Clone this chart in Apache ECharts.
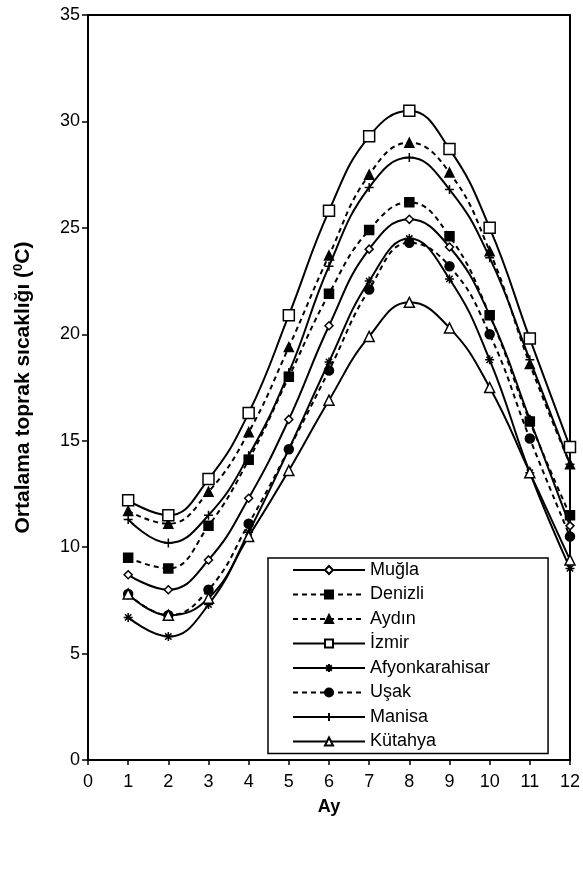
<!DOCTYPE html>
<html>
<head>
<meta charset="utf-8">
<title>Ortalama toprak sıcaklığı</title>
<script src="https://cdn.jsdelivr.net/npm/echarts@6/dist/echarts.min.js"></script>
<style>
  html, body { margin: 0; padding: 0; background: #fff; }
  #chart { width: 583px; height: 869px; }
</style>
</head>
<body>
<div id="chart"></div>
<script>
// aylar (x ekseni)
var months = [1, 2, 3, 4, 5, 6, 7, 8, 9, 10, 11, 12];

// aylık ortalama toprak sıcaklıkları (ºC)
var mugla = [8.7, 8.0, 9.4, 12.3, 16.0, 20.4, 24.0, 25.4, 24.1, 20.9, 16.0, 11.0];
var denizli = [9.5, 9.0, 11.0, 14.1, 18.0, 21.9, 24.9, 26.2, 24.6, 20.9, 15.9, 11.5];
var aydin = [11.7, 11.1, 12.6, 15.4, 19.4, 23.7, 27.5, 29.0, 27.6, 23.9, 18.6, 13.9];
var izmir = [12.2, 11.5, 13.2, 16.3, 20.9, 25.8, 29.3, 30.5, 28.7, 25.0, 19.8, 14.7];
var afyon = [6.7, 5.8, 7.3, 10.7, 14.6, 18.7, 22.5, 24.5, 22.6, 18.8, 13.5, 9.0];
var usak = [7.8, 6.8, 8.0, 11.1, 14.6, 18.3, 22.1, 24.3, 23.2, 20.0, 15.1, 10.5];
var manisa = [11.3, 10.2, 11.5, 14.3, 18.2, 23.2, 26.9, 28.3, 26.8, 23.6, 18.8, 13.9];
var kutahya = [7.8, 6.8, 7.6, 10.5, 13.6, 16.9, 19.9, 21.5, 20.3, 17.5, 13.5, 9.4];

var font = "'Liberation Sans', Arial, sans-serif";

// yildiz ve arti isaretleri
var starPath = "path://M5,0L5,10M0,5L10,5M1.5,1.5L8.5,8.5M8.5,1.5L1.5,8.5";
var plusPath = "path://M5,0L5,10M0,5L10,5";

function pairs(arr) {
  return arr.map(function (v, i) { return [months[i], v]; });
}

function mkSeries(name, data, symbol, size, filled, dashed) {
  return {
    name: name,
    type: "line",
    smooth: 0.45,
    data: pairs(data),
    symbol: symbol,
    symbolSize: size,
    symbolKeepAspect: true,
    z: 3,
    lineStyle: {
      color: "#000",
      width: 2,
      type: dashed ? [5, 4] : "solid",
    },
    itemStyle: {
      color: filled ? "#000" : "#fff",
      borderColor: "#000",
      borderWidth: 1.5,
    },
    emphasis: { disabled: true },
  };
}

var chart = echarts.init(document.getElementById("chart"));

var option = {
  animation: false,
  backgroundColor: "#fff",
  textStyle: { fontFamily: font },
  grid: {
    left: 88,
    right: 11,
    top: 15,
    bottom: 109,
    show: true,
    borderColor: "#000",
    borderWidth: 2,
  },
  legend: {
    orient: "vertical",
    left: 268,
    top: 558,
    padding: [3, 58, 3, 24],
    itemWidth: 72,
    itemHeight: 10,
    itemGap: 6.5,
    borderColor: "#000",
    borderWidth: 1.5,
    backgroundColor: "#fff",
    textStyle: { fontFamily: font, fontSize: 18, color: "#000" },
    data: ["Muğla", "Denizli", "Aydın", "İzmir", "Afyonkarahisar", "Uşak", "Manisa", "Kütahya"],
  },
  xAxis: {
    type: "value",
    min: 0,
    max: 12,
    interval: 1,
    name: "Ay",
    nameLocation: "middle",
    nameGap: 38,
    nameTextStyle: { fontFamily: font, fontSize: 18, fontWeight: "bold", color: "#000" },
    axisLine: { lineStyle: { color: "#000", width: 2 } },
    axisTick: { inside: false, length: 5, lineStyle: { color: "#000", width: 1.5 } },
    axisLabel: { fontFamily: font, fontSize: 18, color: "#000", margin: 13 },
    splitLine: { show: false },
  },
  yAxis: {
    type: "value",
    min: 0,
    max: 35,
    interval: 5,
    name: "{t|Ortalama toprak sıcaklığı (}{s|0}{t|C)}",
    nameLocation: "middle",
    nameGap: 54,
    nameTextStyle: {
      rich: {
        t: { fontFamily: font, fontSize: 21, fontWeight: "bold", color: "#000" },
        s: { fontFamily: font, fontSize: 13, fontWeight: "bold", color: "#000", verticalAlign: "top", padding: [0, 0, 9, 0] },
      },
    },
    axisLine: { lineStyle: { color: "#000", width: 2 } },
    axisTick: { inside: false, length: 6, lineStyle: { color: "#000", width: 1.5 } },
    axisLabel: { fontFamily: font, fontSize: 18, color: "#000", margin: 8 },
    splitLine: { show: false },
  },
  series: [
    mkSeries("Muğla", mugla, "diamond", 8, false, false),
    mkSeries("Denizli", denizli, "rect", 9, true, true),
    mkSeries("Aydın", aydin, "triangle", 9, true, true),
    mkSeries("İzmir", izmir, "rect", 11, false, false),
    mkSeries("Afyonkarahisar", afyon, starPath, 9, true, false),
    mkSeries("Uşak", usak, "circle", 9, true, true),
    mkSeries("Manisa", manisa, plusPath, 9, true, false),
    mkSeries("Kütahya", kutahya, "triangle", 10, false, false),
  ],
};

chart.setOption(option);
</script>
</body>
</html>
